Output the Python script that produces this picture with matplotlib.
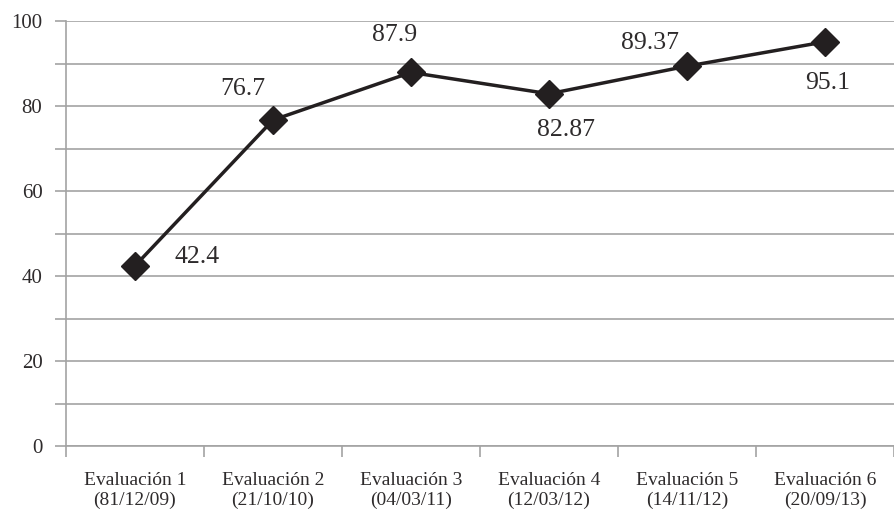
import matplotlib.pyplot as plt
from matplotlib.ticker import MultipleLocator, FixedLocator

# Data
evaluations = ['Evaluación 1', 'Evaluación 2', 'Evaluación 3',
               'Evaluación 4', 'Evaluación 5', 'Evaluación 6']
dates = ['(81/12/09)', '(21/10/10)', '(04/03/11)',
         '(12/03/12)', '(14/11/12)', '(20/09/13)']
scores = [42.4, 76.7, 87.9, 82.87, 89.37, 95.1]
score_labels = ['42.4', '76.7', '87.9', '82.87', '89.37', '95.1']

# where each value label sits relative to its point (points)
label_offsets = [(45, 6), (-22, 22), (-12, 27), (12, -26), (-27, 17), (2, -30)]

plt.rcParams['font.family'] = ['Liberation Serif', 'DejaVu Serif']

grid_color = '#a3a3a3'
ink = '#231f20'
text_color = '#2e2b2c'

fig = plt.figure(figsize=(8.94, 5.15), dpi=100)
ax = fig.add_axes([66 / 894, 1 - 446 / 515, 1 - 66 / 894, (446 - 21) / 515])

x = [i + 0.5 for i in range(len(scores))]
ax.plot(x, scores, color=ink, linewidth=2.5, marker='D', markersize=14,
        markerfacecolor=ink, markeredgecolor=ink, zorder=3, clip_on=False)

for xi, yi, txt, off in zip(x, scores, score_labels, label_offsets):
    ax.annotate(txt, (xi, yi), xytext=off, textcoords='offset points',
                ha='center', va='center', fontsize=18.5, color=text_color)

ax.set_xlim(0, len(scores))
ax.set_ylim(0, 100)

# y axis: labels every 20, gridlines every 10
ax.yaxis.set_major_locator(MultipleLocator(20))
ax.yaxis.set_minor_locator(MultipleLocator(10))
ax.grid(True, axis='y', which='both', color=grid_color, linewidth=1.2)
ax.tick_params(axis='y', which='both', length=8, width=1.2, color=grid_color,
               labelsize=15, labelcolor=text_color, pad=9)

# x axis: ticks at category boundaries, labels at centres
ax.xaxis.set_major_locator(FixedLocator(range(len(scores) + 1)))
ax.xaxis.set_minor_locator(FixedLocator(x))
ax.set_xticklabels([''] * (len(scores) + 1))
ax.set_xticklabels([f'{e}\n{d}' for e, d in zip(evaluations, dates)],
                   minor=True, linespacing=1.15)
ax.tick_params(axis='x', which='major', length=8, width=1.2, color=grid_color)
ax.tick_params(axis='x', which='minor', length=0, labelsize=14,
               labelcolor=text_color, pad=19)

for side in ['top', 'right']:
    ax.spines[side].set_visible(False)
for side in ['left', 'bottom']:
    ax.spines[side].set_color(grid_color)
    ax.spines[side].set_linewidth(1.2)
ax.set_axisbelow(True)

fig.savefig('out.png', dpi=100)
